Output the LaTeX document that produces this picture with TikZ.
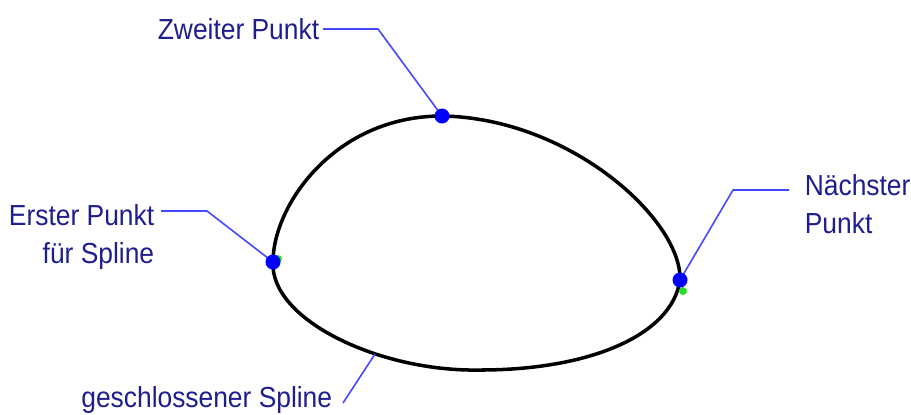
\documentclass[tikz,border=0pt]{standalone}
\usepackage{fontspec}
\setmainfont{Liberation Sans}[FakeStretch=0.91]
\definecolor{textblau}{RGB}{30,30,140}
\definecolor{linienblau}{RGB}{70,70,255}
\definecolor{punktgruen}{RGB}{40,220,40}
\tikzset{
  beschriftung/.style={text=textblau, font=\fontsize{16.5}{19}\selectfont, inner sep=2pt},
  zweizeilig/.style={beschriftung, font=\fontsize{16.5}{22}\selectfont},
  hinweis/.style={linienblau, line width=0.9pt},
  spline/.style={black, line width=2pt},
  punkt/.style={circle, fill=blue, inner sep=0pt, minimum size=0.3cm}
}
\begin{document}
\begin{tikzpicture}[x=0.02cm, y=-0.02cm]
    \useasboundingbox (0,0) rectangle (911,414);
    % Punkte auf dem Spline
    \coordinate (pErster) at (273,262);
    \coordinate (pZweiter) at (442,116);
    \coordinate (pNaechster) at (680,280);
    \coordinate (pUnten) at (480,370);
    \coordinate (pSpline) at (375,354);
    % Geschlossener Spline
    \draw[spline] (pErster) .. controls (273,205) and (335,116) .. (pZweiter)
        .. controls (570,118) and (682,220) .. (pNaechster)
        .. controls (672,335) and (590,370) .. (pUnten)
        .. controls (380,372) and (270,320) .. cycle;
    % Beschriftungen
    \node[beschriftung, anchor=east] (zweiter) at (323,29) {Zweiter Punkt};
    \node[zweizeilig, anchor=east, align=right] (erster) at (158,237) {Erster Punkt\\für Spline};
    \node[zweizeilig, anchor=west, align=left] (naechster) at (801,204) {Nächster\\Punkt};
    \node[beschriftung, anchor=east] (geschlossen) at (336,400) {geschlossener Spline};
    % Hinweislinien
    \coordinate (kZweiter) at (378,29);
    \coordinate (kErster) at (207,211);
    \coordinate (kNaechster) at (733,190);
    \draw[hinweis] (zweiter.east) -- (kZweiter) -- (pZweiter);
    \draw[hinweis] (erster.north east |- kErster) ++(3,0) -- (kErster) -- (pErster);
    \draw[hinweis] (naechster.north west |- kNaechster) ++(-12,0) -- (kNaechster) -- (pNaechster);
    \draw[hinweis] (geschlossen.east) ++(7,3) coordinate (kSpline) -- (pSpline);
    % Punkte
    \fill[punktgruen] (683,291) circle (4);
    \fill[punktgruen] (278,259) circle (4);
    \foreach \p in {pErster, pZweiter, pNaechster} {
        \node[punkt] at (\p) {};
    }
\end{tikzpicture}
\end{document}
